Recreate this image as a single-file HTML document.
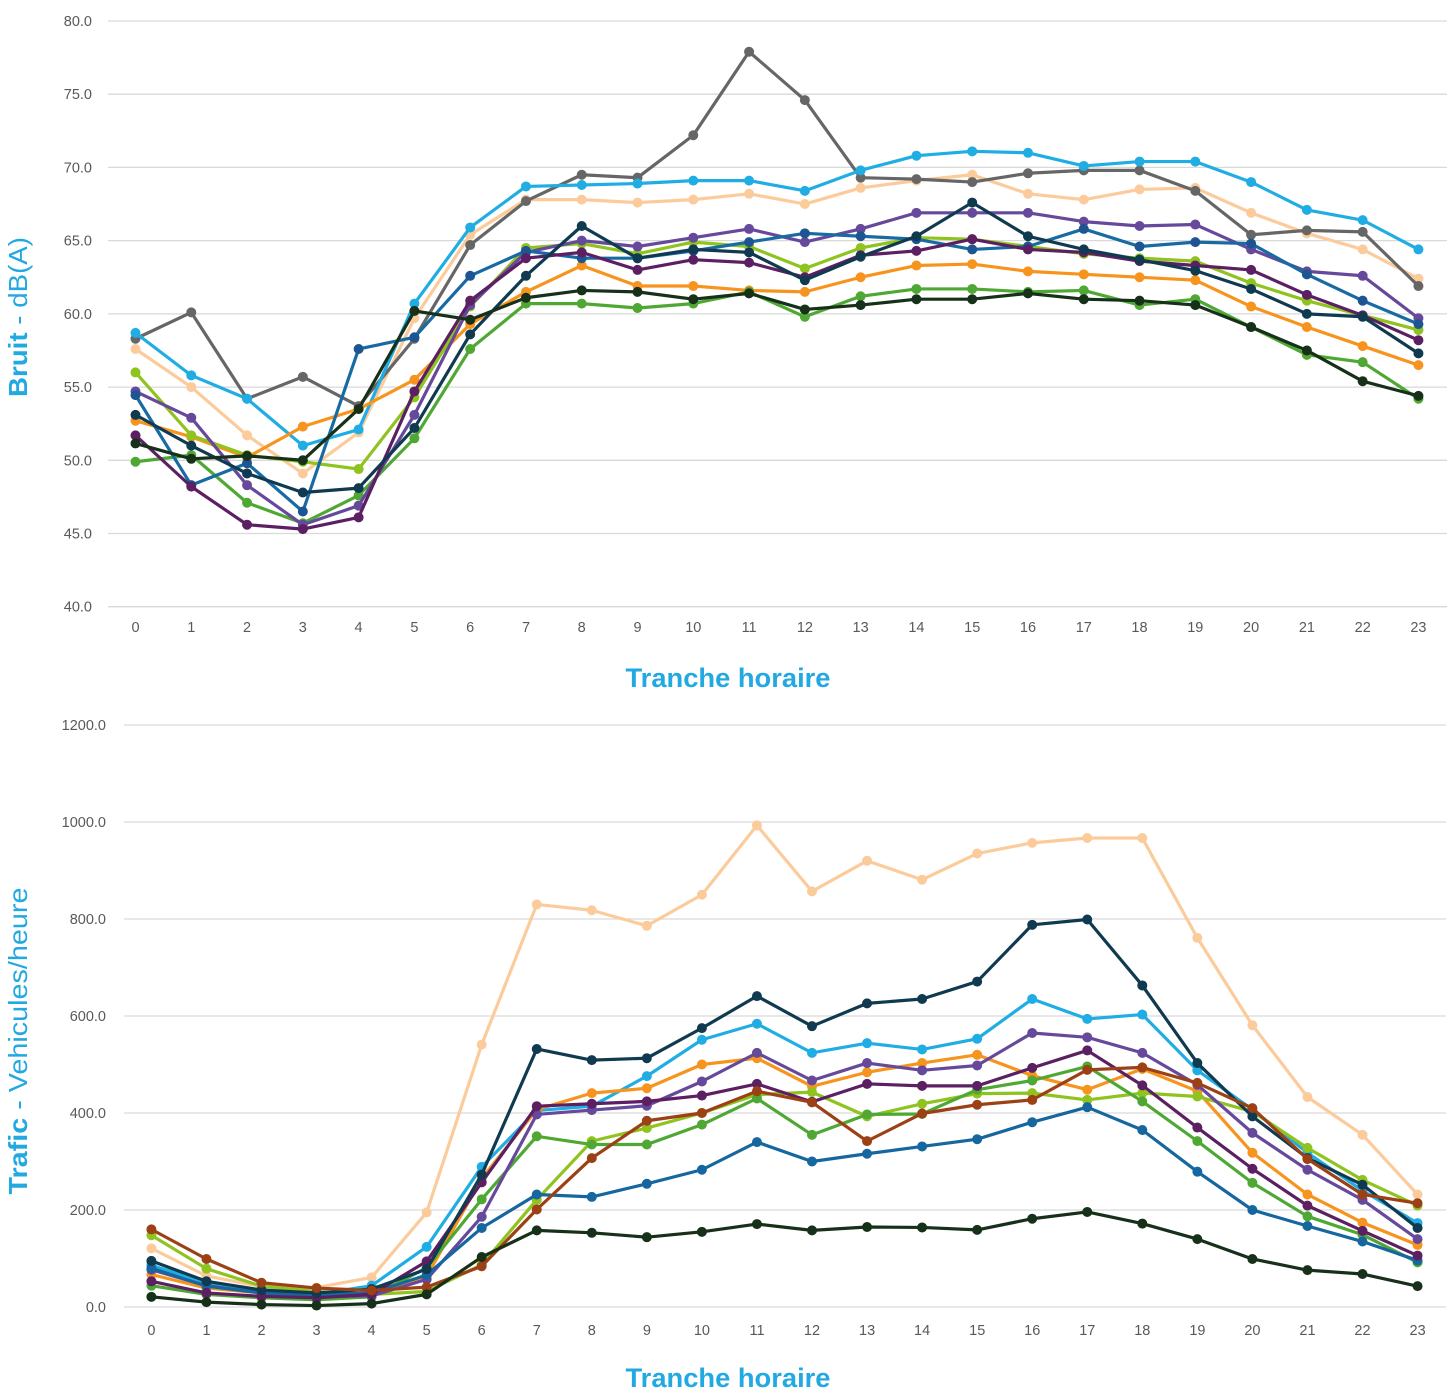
<!DOCTYPE html>
<html>
<head>
<meta charset="utf-8">
<style>
html,body{margin:0;padding:0;background:#fff;}
svg{display:block;}
.tk{font-family:"Liberation Sans",sans-serif;font-size:14.5px;fill:#595959;}
.tt{font-family:"Liberation Sans",sans-serif;fill:#22a9e1;}
</style>
</head>
<body>
<svg width="1455" height="1399" viewBox="0 0 1455 1399" xmlns="http://www.w3.org/2000/svg">
<rect width="1455" height="1399" fill="#fff"/>

<!-- ============ TOP CHART ============ -->
<g stroke="#d9d9d9" stroke-width="1.3">
<line x1="108" y1="21" x2="1447" y2="21"/>
<line x1="108" y1="94.2" x2="1447" y2="94.2"/>
<line x1="108" y1="167.4" x2="1447" y2="167.4"/>
<line x1="108" y1="240.6" x2="1447" y2="240.6"/>
<line x1="108" y1="313.9" x2="1447" y2="313.9"/>
<line x1="108" y1="387.1" x2="1447" y2="387.1"/>
<line x1="108" y1="460.3" x2="1447" y2="460.3"/>
<line x1="108" y1="533.5" x2="1447" y2="533.5"/>
<line x1="108" y1="606.7" x2="1447" y2="606.7"/>
</g>
<g class="tk" text-anchor="end">
<text x="92" y="26">80.0</text>
<text x="92" y="99.2">75.0</text>
<text x="92" y="172.4">70.0</text>
<text x="92" y="245.6">65.0</text>
<text x="92" y="318.9">60.0</text>
<text x="92" y="392.1">55.0</text>
<text x="92" y="465.3">50.0</text>
<text x="92" y="538.5">45.0</text>
<text x="92" y="611.7">40.0</text>
</g>
<g class="tk" text-anchor="middle">
<text x="135.5" y="632">0</text><text x="191.3" y="632">1</text><text x="247.1" y="632">2</text><text x="302.8" y="632">3</text><text x="358.6" y="632">4</text><text x="414.4" y="632">5</text><text x="470.2" y="632">6</text><text x="526" y="632">7</text><text x="581.7" y="632">8</text><text x="637.5" y="632">9</text><text x="693.3" y="632">10</text><text x="749.1" y="632">11</text><text x="804.9" y="632">12</text><text x="860.6" y="632">13</text><text x="916.4" y="632">14</text><text x="972.2" y="632">15</text><text x="1028" y="632">16</text><text x="1083.8" y="632">17</text><text x="1139.5" y="632">18</text><text x="1195.3" y="632">19</text><text x="1251.1" y="632">20</text><text x="1306.9" y="632">21</text><text x="1362.7" y="632">22</text><text x="1418.4" y="632">23</text>
</g>
<text class="tt" transform="translate(27,317) rotate(-90)" text-anchor="middle" font-size="26" textLength="160" lengthAdjust="spacingAndGlyphs"><tspan font-weight="bold">Bruit</tspan> - dB(A)</text>
<text class="tt" x="728" y="687" text-anchor="middle" font-size="27" font-weight="bold" textLength="205" lengthAdjust="spacingAndGlyphs">Tranche horaire</text>

<g transform="matrix(55.78 0 0 -14.6425 135.5 1192.4)" fill="none" stroke-linejoin="round">
<!-- peach -->
<polyline vector-effect="non-scaling-stroke" stroke="#fccb9b" stroke-width="3.2" points="0,57.6 1,55.0 2,51.7 3,49.1 4,51.9 5,59.7 6,65.4 7,67.8 8,67.8 9,67.6 10,67.8 11,68.2 12,67.5 13,68.6 14,69.1 15,69.5 16,68.2 17,67.8 18,68.5 19,68.6 20,66.9 21,65.5 22,64.4 23,62.4"/>
<path vector-effect="non-scaling-stroke" stroke="#fccb9b" stroke-width="10" stroke-linecap="round" d="M0 57.6h0M1 55.0h0M2 51.7h0M3 49.1h0M4 51.9h0M5 59.7h0M6 65.4h0M7 67.8h0M8 67.8h0M9 67.6h0M10 67.8h0M11 68.2h0M12 67.5h0M13 68.6h0M14 69.1h0M15 69.5h0M16 68.2h0M17 67.8h0M18 68.5h0M19 68.6h0M20 66.9h0M21 65.5h0M22 64.4h0M23 62.4h0"/>
<!-- grey -->
<polyline vector-effect="non-scaling-stroke" stroke="#666666" stroke-width="3.2" points="0,58.3 1,60.1 2,54.2 3,55.7 4,53.7 5,58.3 6,64.7 7,67.7 8,69.5 9,69.3 10,72.2 11,77.9 12,74.6 13,69.3 14,69.2 15,69.0 16,69.6 17,69.8 18,69.8 19,68.4 20,65.4 21,65.7 22,65.6 23,61.9"/>
<path vector-effect="non-scaling-stroke" stroke="#666666" stroke-width="10" stroke-linecap="round" d="M0 58.3h0M1 60.1h0M2 54.2h0M3 55.7h0M4 53.7h0M5 58.3h0M6 64.7h0M7 67.7h0M8 69.5h0M9 69.3h0M10 72.2h0M11 77.9h0M12 74.6h0M13 69.3h0M14 69.2h0M15 69.0h0M16 69.6h0M17 69.8h0M18 69.8h0M19 68.4h0M20 65.4h0M21 65.7h0M22 65.6h0M23 61.9h0"/>
<!-- light blue -->
<polyline vector-effect="non-scaling-stroke" stroke="#20ade4" stroke-width="3.2" points="0,58.7 1,55.8 2,54.2 3,51.0 4,52.1 5,60.7 6,65.9 7,68.7 8,68.8 9,68.9 10,69.1 11,69.1 12,68.4 13,69.8 14,70.8 15,71.1 16,71.0 17,70.1 18,70.4 19,70.4 20,69.0 21,67.1 22,66.4 23,64.4"/>
<path vector-effect="non-scaling-stroke" stroke="#20ade4" stroke-width="10" stroke-linecap="round" d="M0 58.7h0M1 55.8h0M2 54.2h0M3 51.0h0M4 52.1h0M5 60.7h0M6 65.9h0M7 68.7h0M8 68.8h0M9 68.9h0M10 69.1h0M11 69.1h0M12 68.4h0M13 69.8h0M14 70.8h0M15 71.1h0M16 71.0h0M17 70.1h0M18 70.4h0M19 70.4h0M20 69.0h0M21 67.1h0M22 66.4h0M23 64.4h0"/>
<!-- orange -->
<polyline vector-effect="non-scaling-stroke" stroke="#f7941d" stroke-width="3.2" points="0,52.7 1,51.6 2,50.2 3,52.3 4,53.5 5,55.5 6,59.3 7,61.5 8,63.3 9,61.9 10,61.9 11,61.6 12,61.5 13,62.5 14,63.3 15,63.4 16,62.9 17,62.7 18,62.5 19,62.3 20,60.5 21,59.1 22,57.8 23,56.5"/>
<path vector-effect="non-scaling-stroke" stroke="#f7941d" stroke-width="10" stroke-linecap="round" d="M0 52.7h0M1 51.6h0M2 50.2h0M3 52.3h0M4 53.5h0M5 55.5h0M6 59.3h0M7 61.5h0M8 63.3h0M9 61.9h0M10 61.9h0M11 61.6h0M12 61.5h0M13 62.5h0M14 63.3h0M15 63.4h0M16 62.9h0M17 62.7h0M18 62.5h0M19 62.3h0M20 60.5h0M21 59.1h0M22 57.8h0M23 56.5h0"/>
<!-- yellow-green -->
<polyline vector-effect="non-scaling-stroke" stroke="#8fc31f" stroke-width="3.2" points="0,56.0 1,51.7 2,50.35 3,49.9 4,49.4 5,54.3 6,60.5 7,64.5 8,64.8 9,64.1 10,64.9 11,64.6 12,63.1 13,64.5 14,65.2 15,65.1 16,64.6 17,64.1 18,63.8 19,63.6 20,62.1 21,60.9 22,59.9 23,58.9"/>
<path vector-effect="non-scaling-stroke" stroke="#8fc31f" stroke-width="10" stroke-linecap="round" d="M0 56.0h0M1 51.7h0M2 50.35h0M3 49.9h0M4 49.4h0M5 54.3h0M6 60.5h0M7 64.5h0M8 64.8h0M9 64.1h0M10 64.9h0M11 64.6h0M12 63.1h0M13 64.5h0M14 65.2h0M15 65.1h0M16 64.6h0M17 64.1h0M18 63.8h0M19 63.6h0M20 62.1h0M21 60.9h0M22 59.9h0M23 58.9h0"/>
<!-- green -->
<polyline vector-effect="non-scaling-stroke" stroke="#4fa833" stroke-width="3.2" points="0,49.9 1,50.35 2,47.1 3,45.7 4,47.6 5,51.5 6,57.6 7,60.7 8,60.7 9,60.4 10,60.7 11,61.5 12,59.8 13,61.2 14,61.7 15,61.7 16,61.5 17,61.6 18,60.6 19,61.0 20,59.1 21,57.2 22,56.7 23,54.2"/>
<path vector-effect="non-scaling-stroke" stroke="#4fa833" stroke-width="10" stroke-linecap="round" d="M0 49.9h0M1 50.35h0M2 47.1h0M3 45.7h0M4 47.6h0M5 51.5h0M6 57.6h0M7 60.7h0M8 60.7h0M9 60.4h0M10 60.7h0M11 61.5h0M12 59.8h0M13 61.2h0M14 61.7h0M15 61.7h0M16 61.5h0M17 61.6h0M18 60.6h0M19 61.0h0M20 59.1h0M21 57.2h0M22 56.7h0M23 54.2h0"/>
<!-- purple -->
<polyline vector-effect="non-scaling-stroke" stroke="#67499b" stroke-width="3.2" points="0,54.7 1,52.9 2,48.3 3,45.6 4,46.9 5,53.1 6,60.6 7,64.2 8,65.0 9,64.6 10,65.2 11,65.8 12,64.9 13,65.8 14,66.9 15,66.9 16,66.9 17,66.3 18,66.0 19,66.1 20,64.4 21,62.9 22,62.6 23,59.7"/>
<path vector-effect="non-scaling-stroke" stroke="#67499b" stroke-width="10" stroke-linecap="round" d="M0 54.7h0M1 52.9h0M2 48.3h0M3 45.6h0M4 46.9h0M5 53.1h0M6 60.6h0M7 64.2h0M8 65.0h0M9 64.6h0M10 65.2h0M11 65.8h0M12 64.9h0M13 65.8h0M14 66.9h0M15 66.9h0M16 66.9h0M17 66.3h0M18 66.0h0M19 66.1h0M20 64.4h0M21 62.9h0M22 62.6h0M23 59.7h0"/>
<!-- blue -->
<polyline vector-effect="non-scaling-stroke" stroke="#186aa3" stroke-width="3.2" points="0,54.45 1,48.3 2,49.8 3,46.5 4,57.6 5,58.4 6,62.6 7,64.3 8,63.8 9,63.8 10,64.3 11,64.9 12,65.5 13,65.3 14,65.1 15,64.4 16,64.6 17,65.8 18,64.6 19,64.9 20,64.8 21,62.7 22,60.9 23,59.3"/>
<path vector-effect="non-scaling-stroke" stroke="#1c5592" stroke-width="10" stroke-linecap="round" d="M0 54.45h0M1 48.3h0M2 49.8h0M3 46.5h0M4 57.6h0M5 58.4h0M6 62.6h0M7 64.3h0M8 63.8h0M9 63.8h0M10 64.3h0M11 64.9h0M12 65.5h0M13 65.3h0M14 65.1h0M15 64.4h0M16 64.6h0M17 65.8h0M18 64.6h0M19 64.9h0M20 64.8h0M21 62.7h0M22 60.9h0M23 59.3h0"/>
<!-- dark purple -->
<polyline vector-effect="non-scaling-stroke" stroke="#5b1f62" stroke-width="3.2" points="0,51.7 1,48.2 2,45.6 3,45.3 4,46.1 5,54.7 6,60.9 7,63.8 8,64.2 9,63.0 10,63.7 11,63.5 12,62.5 13,64.0 14,64.3 15,65.1 16,64.4 17,64.2 18,63.6 19,63.3 20,63.0 21,61.3 22,59.9 23,58.2"/>
<path vector-effect="non-scaling-stroke" stroke="#5b1f62" stroke-width="10" stroke-linecap="round" d="M0 51.7h0M1 48.2h0M2 45.6h0M3 45.3h0M4 46.1h0M5 54.7h0M6 60.9h0M7 63.8h0M8 64.2h0M9 63.0h0M10 63.7h0M11 63.5h0M12 62.5h0M13 64.0h0M14 64.3h0M15 65.1h0M16 64.4h0M17 64.2h0M18 63.6h0M19 63.3h0M20 63.0h0M21 61.3h0M22 59.9h0M23 58.2h0"/>
<!-- navy -->
<polyline vector-effect="non-scaling-stroke" stroke="#0f3a4f" stroke-width="3.2" points="0,53.1 1,51.0 2,49.1 3,47.8 4,48.1 5,52.2 6,58.6 7,62.6 8,66.0 9,63.8 10,64.4 11,64.2 12,62.3 13,63.9 14,65.3 15,67.6 16,65.3 17,64.4 18,63.7 19,62.95 20,61.7 21,60.0 22,59.8 23,57.3"/>
<path vector-effect="non-scaling-stroke" stroke="#0f3a4f" stroke-width="10" stroke-linecap="round" d="M0 53.1h0M1 51.0h0M2 49.1h0M3 47.8h0M4 48.1h0M5 52.2h0M6 58.6h0M7 62.6h0M8 66.0h0M9 63.8h0M10 64.4h0M11 64.2h0M12 62.3h0M13 63.9h0M14 65.3h0M15 67.6h0M16 65.3h0M17 64.4h0M18 63.7h0M19 62.95h0M20 61.7h0M21 60.0h0M22 59.8h0M23 57.3h0"/>
<!-- black-green -->
<polyline vector-effect="non-scaling-stroke" stroke="#17301a" stroke-width="3.2" points="0,51.15 1,50.1 2,50.3 3,50.0 4,53.5 5,60.2 6,59.6 7,61.1 8,61.6 9,61.5 10,61.0 11,61.4 12,60.3 13,60.6 14,61.0 15,61.0 16,61.4 17,61.0 18,60.9 19,60.6 20,59.1 21,57.5 22,55.4 23,54.4"/>
<path vector-effect="non-scaling-stroke" stroke="#17301a" stroke-width="10" stroke-linecap="round" d="M0 51.15h0M1 50.1h0M2 50.3h0M3 50.0h0M4 53.5h0M5 60.2h0M6 59.6h0M7 61.1h0M8 61.6h0M9 61.5h0M10 61.0h0M11 61.4h0M12 60.3h0M13 60.6h0M14 61.0h0M15 61.0h0M16 61.4h0M17 61.0h0M18 60.9h0M19 60.6h0M20 59.1h0M21 57.5h0M22 55.4h0M23 54.4h0"/>
</g>

<!-- ============ BOTTOM CHART ============ -->
<g stroke="#d9d9d9" stroke-width="1.3">
<line x1="124" y1="725" x2="1446" y2="725"/>
<line x1="124" y1="822" x2="1446" y2="822"/>
<line x1="124" y1="919" x2="1446" y2="919"/>
<line x1="124" y1="1016" x2="1446" y2="1016"/>
<line x1="124" y1="1113" x2="1446" y2="1113"/>
<line x1="124" y1="1210" x2="1446" y2="1210"/>
<line x1="124" y1="1307" x2="1446" y2="1307"/>
</g>
<g class="tk" text-anchor="end">
<text x="106" y="730">1200.0</text>
<text x="106" y="827">1000.0</text>
<text x="106" y="924">800.0</text>
<text x="106" y="1021">600.0</text>
<text x="106" y="1118">400.0</text>
<text x="106" y="1215">200.0</text>
<text x="106" y="1312">0.0</text>
</g>
<g class="tk" text-anchor="middle">
<text x="151.4" y="1335">0</text><text x="206.5" y="1335">1</text><text x="261.5" y="1335">2</text><text x="316.6" y="1335">3</text><text x="371.6" y="1335">4</text><text x="426.7" y="1335">5</text><text x="481.7" y="1335">6</text><text x="536.8" y="1335">7</text><text x="591.8" y="1335">8</text><text x="646.9" y="1335">9</text><text x="701.9" y="1335">10</text><text x="757" y="1335">11</text><text x="812" y="1335">12</text><text x="867.1" y="1335">13</text><text x="922.1" y="1335">14</text><text x="977.2" y="1335">15</text><text x="1032.2" y="1335">16</text><text x="1087.3" y="1335">17</text><text x="1142.3" y="1335">18</text><text x="1197.4" y="1335">19</text><text x="1252.4" y="1335">20</text><text x="1307.5" y="1335">21</text><text x="1362.5" y="1335">22</text><text x="1417.6" y="1335">23</text>
</g>
<text class="tt" transform="translate(27,1041) rotate(-90)" text-anchor="middle" font-size="26" textLength="307" lengthAdjust="spacingAndGlyphs"><tspan font-weight="bold">Trafic</tspan> - Vehicules/heure</text>
<text class="tt" x="728" y="1387" text-anchor="middle" font-size="27" font-weight="bold" textLength="205" lengthAdjust="spacingAndGlyphs">Tranche horaire</text>

<g transform="matrix(55.05 0 0 -0.485 151.4 1307)" fill="none" stroke-linejoin="round">
<!-- peach -->
<polyline vector-effect="non-scaling-stroke" stroke="#fccb9b" stroke-width="3.2" points="0,121 1,64 2,42 3,40 4,61 5,195 6,541 7,830 8,818 9,786 10,850 11,993 12,857 13,920 14,881 15,935 16,957 17,967 18,967 19,761 20,581 21,433 22,355 23,232"/>
<path vector-effect="non-scaling-stroke" stroke="#fccb9b" stroke-width="10" stroke-linecap="round" d="M0 121h0M1 64h0M2 42h0M3 40h0M4 61h0M5 195h0M6 541h0M7 830h0M8 818h0M9 786h0M10 850h0M11 993h0M12 857h0M13 920h0M14 881h0M15 935h0M16 957h0M17 967h0M18 967h0M19 761h0M20 581h0M21 433h0M22 355h0M23 232h0"/>
<!-- light blue -->
<polyline vector-effect="non-scaling-stroke" stroke="#20ade4" stroke-width="3.2" points="0,86 1,50 2,32 3,26 4,44 5,124 6,289 7,405 8,414 9,476 10,551 11,584 12,524 13,544 14,531 15,553 16,635 17,594 18,603 19,488 20,407 21,318 22,240 23,173"/>
<path vector-effect="non-scaling-stroke" stroke="#20ade4" stroke-width="10" stroke-linecap="round" d="M0 86h0M1 50h0M2 32h0M3 26h0M4 44h0M5 124h0M6 289h0M7 405h0M8 414h0M9 476h0M10 551h0M11 584h0M12 524h0M13 544h0M14 531h0M15 553h0M16 635h0M17 594h0M18 603h0M19 488h0M20 407h0M21 318h0M22 240h0M23 173h0"/>
<!-- orange -->
<polyline vector-effect="non-scaling-stroke" stroke="#f7941d" stroke-width="3.2" points="0,67 1,39 2,29 3,26 4,28 5,63 6,265 7,407 8,441 9,451 10,500 11,513 12,455 13,484 14,503 15,520 16,477 17,448 18,491 19,445 20,318 21,232 22,174 23,128"/>
<path vector-effect="non-scaling-stroke" stroke="#f7941d" stroke-width="10" stroke-linecap="round" d="M0 67h0M1 39h0M2 29h0M3 26h0M4 28h0M5 63h0M6 265h0M7 407h0M8 441h0M9 451h0M10 500h0M11 513h0M12 455h0M13 484h0M14 503h0M15 520h0M16 477h0M17 448h0M18 491h0M19 445h0M20 318h0M21 232h0M22 174h0M23 128h0"/>
<!-- yellow-green -->
<polyline vector-effect="non-scaling-stroke" stroke="#8fc31f" stroke-width="3.2" points="0,148 1,79 2,43 3,32 4,26 5,32 6,87 7,221 8,342 9,369 10,400 11,438 12,443 13,393 14,419 15,440 16,441 17,427 18,441 19,434 20,403 21,328 22,262 23,209"/>
<path vector-effect="non-scaling-stroke" stroke="#8fc31f" stroke-width="10" stroke-linecap="round" d="M0 148h0M1 79h0M2 43h0M3 32h0M4 26h0M5 32h0M6 87h0M7 221h0M8 342h0M9 369h0M10 400h0M11 438h0M12 443h0M13 393h0M14 419h0M15 440h0M16 441h0M17 427h0M18 441h0M19 434h0M20 403h0M21 328h0M22 262h0M23 209h0"/>
<!-- green -->
<polyline vector-effect="non-scaling-stroke" stroke="#4fa833" stroke-width="3.2" points="0,44 1,26 2,19 3,15 4,21 5,81 6,222 7,352 8,335 9,335 10,376 11,430 12,355 13,397 14,398 15,448 16,467 17,496 18,424 19,342 20,256 21,187 22,149 23,92"/>
<path vector-effect="non-scaling-stroke" stroke="#4fa833" stroke-width="10" stroke-linecap="round" d="M0 44h0M1 26h0M2 19h0M3 15h0M4 21h0M5 81h0M6 222h0M7 352h0M8 335h0M9 335h0M10 376h0M11 430h0M12 355h0M13 397h0M14 398h0M15 448h0M16 467h0M17 496h0M18 424h0M19 342h0M20 256h0M21 187h0M22 149h0M23 92h0"/>
<!-- purple -->
<polyline vector-effect="non-scaling-stroke" stroke="#67499b" stroke-width="3.2" points="0,77 1,44 2,29 3,21 4,23 5,57 6,186 7,397 8,406 9,415 10,465 11,524 12,467 13,503 14,488 15,498 16,565 17,556 18,524 19,458 20,359 21,283 22,221 23,140"/>
<path vector-effect="non-scaling-stroke" stroke="#67499b" stroke-width="10" stroke-linecap="round" d="M0 77h0M1 44h0M2 29h0M3 21h0M4 23h0M5 57h0M6 186h0M7 397h0M8 406h0M9 415h0M10 465h0M11 524h0M12 467h0M13 503h0M14 488h0M15 498h0M16 565h0M17 556h0M18 524h0M19 458h0M20 359h0M21 283h0M22 221h0M23 140h0"/>
<!-- blue -->
<polyline vector-effect="non-scaling-stroke" stroke="#16679f" stroke-width="3.2" points="0,80 1,43 2,29 3,26 4,29 5,66 6,163 7,232 8,227 9,254 10,283 11,340 12,300 13,316 14,331 15,346 16,381 17,412 18,365 19,279 20,200 21,167 22,135 23,96"/>
<path vector-effect="non-scaling-stroke" stroke="#16679f" stroke-width="10" stroke-linecap="round" d="M0 80h0M1 43h0M2 29h0M3 26h0M4 29h0M5 66h0M6 163h0M7 232h0M8 227h0M9 254h0M10 283h0M11 340h0M12 300h0M13 316h0M14 331h0M15 346h0M16 381h0M17 412h0M18 365h0M19 279h0M20 200h0M21 167h0M22 135h0M23 96h0"/>
<!-- dark purple -->
<polyline vector-effect="non-scaling-stroke" stroke="#5b1f62" stroke-width="3.2" points="0,53 1,29 2,22 3,19 4,26 5,94 6,257 7,414 8,419 9,424 10,436 11,460 12,423 13,460 14,456 15,456 16,493 17,529 18,457 19,370 20,285 21,209 22,157 23,106"/>
<path vector-effect="non-scaling-stroke" stroke="#5b1f62" stroke-width="10" stroke-linecap="round" d="M0 53h0M1 29h0M2 22h0M3 19h0M4 26h0M5 94h0M6 257h0M7 414h0M8 419h0M9 424h0M10 436h0M11 460h0M12 423h0M13 460h0M14 456h0M15 456h0M16 493h0M17 529h0M18 457h0M19 370h0M20 285h0M21 209h0M22 157h0M23 106h0"/>
<!-- navy -->
<polyline vector-effect="non-scaling-stroke" stroke="#0f3a4f" stroke-width="3.2" points="0,95 1,53 2,35 3,29 4,37 5,78 6,273 7,532 8,509 9,513 10,575 11,641 12,579 13,626 14,635 15,671 16,788 17,799 18,663 19,503 20,393 21,307 22,252 23,163"/>
<path vector-effect="non-scaling-stroke" stroke="#0f3a4f" stroke-width="10" stroke-linecap="round" d="M0 95h0M1 53h0M2 35h0M3 29h0M4 37h0M5 78h0M6 273h0M7 532h0M8 509h0M9 513h0M10 575h0M11 641h0M12 579h0M13 626h0M14 635h0M15 671h0M16 788h0M17 799h0M18 663h0M19 503h0M20 393h0M21 307h0M22 252h0M23 163h0"/>
<!-- brown -->
<polyline vector-effect="non-scaling-stroke" stroke="#9b4115" stroke-width="3.2" points="0,160 1,99 2,50 3,39 4,34 5,41 6,84 7,201 8,307 9,384 10,400 11,445 12,422 13,342 14,399 15,417 16,427 17,489 18,494 19,462 20,410 21,305 22,232 23,214"/>
<path vector-effect="non-scaling-stroke" stroke="#9b4115" stroke-width="10" stroke-linecap="round" d="M0 160h0M1 99h0M2 50h0M3 39h0M4 34h0M5 41h0M6 84h0M7 201h0M8 307h0M9 384h0M10 400h0M11 445h0M12 422h0M13 342h0M14 399h0M15 417h0M16 427h0M17 489h0M18 494h0M19 462h0M20 410h0M21 305h0M22 232h0M23 214h0"/>
<!-- black-green -->
<polyline vector-effect="non-scaling-stroke" stroke="#17301a" stroke-width="3.2" points="0,21 1,10 2,5 3,3 4,7 5,26 6,103 7,158 8,153 9,144 10,155 11,171 12,158 13,165 14,164 15,159 16,182 17,196 18,172 19,140 20,99 21,76 22,68 23,43"/>
<path vector-effect="non-scaling-stroke" stroke="#17301a" stroke-width="10" stroke-linecap="round" d="M0 21h0M1 10h0M2 5h0M3 3h0M4 7h0M5 26h0M6 103h0M7 158h0M8 153h0M9 144h0M10 155h0M11 171h0M12 158h0M13 165h0M14 164h0M15 159h0M16 182h0M17 196h0M18 172h0M19 140h0M20 99h0M21 76h0M22 68h0M23 43h0"/>
</g>
</svg>
</body>
</html>
